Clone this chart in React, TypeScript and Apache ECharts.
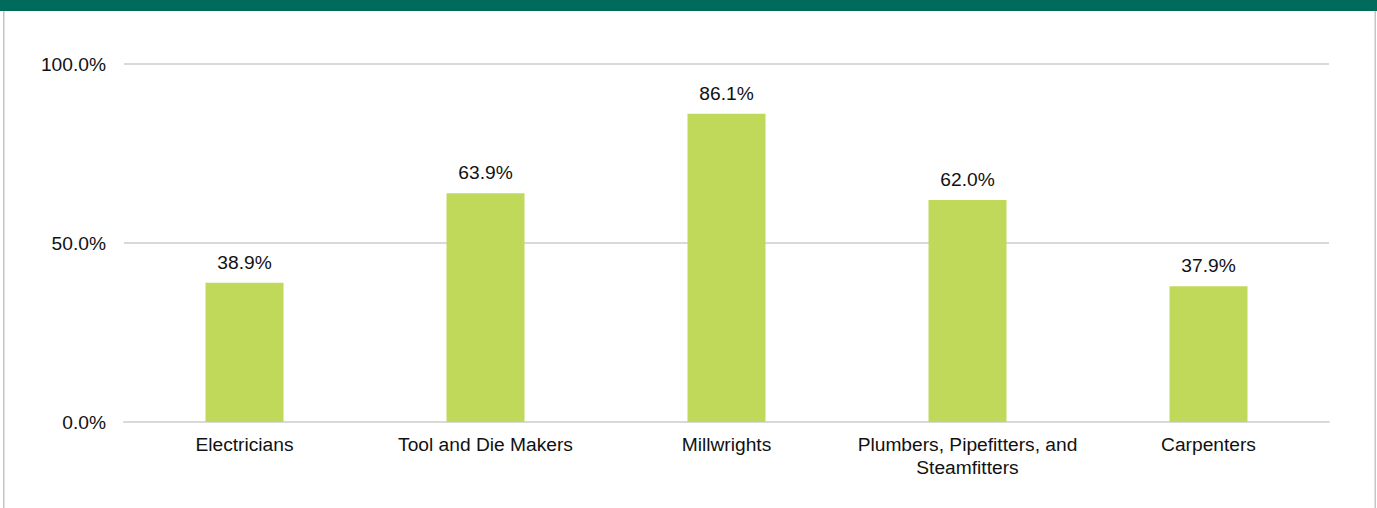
import React, { useEffect, useRef } from "react";
import * as echarts from "echarts";

const categories = [
  "Electricians",
  "Tool and Die Makers",
  "Millwrights",
  "Plumbers, Pipefitters, and Steamfitters",
  "Carpenters",
];
const values = [38.9, 63.9, 86.1, 62.0, 37.9];
const yTicks = { min: 0, max: 100, interval: 50 };

const FONT = "'Liberation Sans', Arial, sans-serif";
const FS = 19.2;

export default function App() {
  const ref = useRef<HTMLDivElement>(null);
  useEffect(() => {
    if (!ref.current) return;
    const chart = echarts.init(ref.current, null, { renderer: "svg" });
    chart.setOption({
      animation: false,
      backgroundColor: "#ffffff",
      grid: { left: 124, right: 48, top: 64, bottom: 86 },
      graphic: [
        { type: "rect", shape: { x: 0, y: 0, width: 1377, height: 11 }, style: { fill: "#006B5B" }, silent: true },
        { type: "rect", shape: { x: 3, y: 11, width: 1.5, height: 497 }, style: { fill: "#c4c4c4" }, silent: true },
        { type: "rect", shape: { x: 1374.5, y: 11, width: 1.5, height: 497 }, style: { fill: "#c4c4c4" }, silent: true },
      ],
      xAxis: {
        type: "category",
        data: categories,
        axisLine: { show: true, lineStyle: { color: "#d9d9d9", width: 2 } },
        axisTick: { show: false },
        axisLabel: {
          color: "#111",
          fontFamily: FONT,
          fontSize: FS,
          margin: 11,
          lineHeight: 23,
          interval: 0,
          formatter: (v: string) => v.replace(", and ", ", and\n"),
        },
      },
      yAxis: {
        type: "value",
        min: yTicks.min,
        max: yTicks.max,
        interval: yTicks.interval,
        axisLine: { show: false },
        axisTick: { show: false },
        splitLine: { lineStyle: { color: "#d9d9d9", width: 2 } },
        axisLabel: {
          color: "#111",
          fontFamily: FONT,
          fontSize: FS,
          margin: 18,
          formatter: (v: number) => v.toFixed(1) + "%",
        },
      },
      series: [
        {
          type: "bar",
          data: values,
          barWidth: 78,
          itemStyle: { color: "#C1D95A" },
          label: {
            show: true,
            position: "top",
            distance: 11,
            color: "#111",
            fontFamily: FONT,
            fontSize: FS,
            formatter: (p: any) => Number(p.value).toFixed(1) + "%",
          },
        },
      ],
    });
    return () => chart.dispose();
  }, []);
  return (
    <div
      ref={ref}
      style={{ position: "absolute", left: 0, top: 0, width: 1377, height: 508 }}
    />
  );
}
